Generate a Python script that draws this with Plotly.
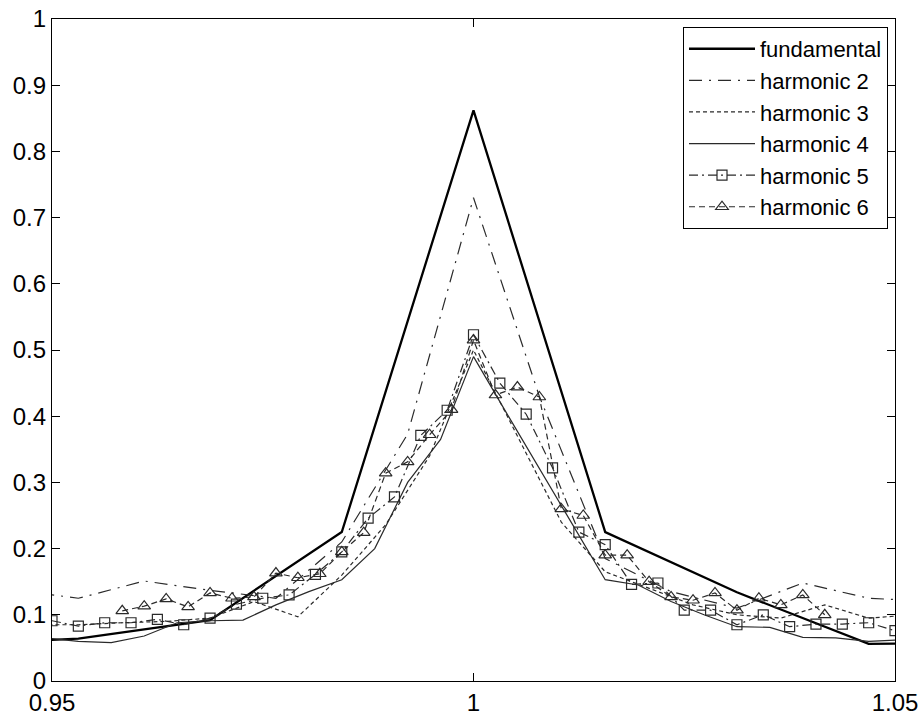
import plotly.graph_objects as go

# ---- data ----
fund_x = [0.9375, 0.953125, 0.96875, 0.984375, 1.0, 1.015625, 1.03125, 1.046875, 1.0625]
fund_y = [0.055, 0.064, 0.092, 0.225, 0.862, 0.225, 0.134, 0.056, 0.058]

h2_x = [0.945313, 0.953125, 0.960938, 0.96875, 0.976563, 0.984375, 0.992188, 1.0,
        1.007813, 1.015625, 1.023438, 1.03125, 1.039063, 1.046875, 1.054688]
h2_y = [0.138, 0.125, 0.151, 0.137, 0.125, 0.21, 0.373, 0.73,
        0.43, 0.185, 0.135, 0.11, 0.148, 0.125, 0.12]

h3_x = [0.947917, 0.953125, 0.958333, 0.963542, 0.96875, 0.973958, 0.979167, 0.984375,
        0.989583, 0.994792, 1.0, 1.005208, 1.010417, 1.015625, 1.020833, 1.026042,
        1.03125, 1.036458, 1.041667, 1.046875, 1.052083]
h3_y = [0.085, 0.085, 0.088, 0.09, 0.095, 0.12, 0.097, 0.16,
        0.236, 0.34, 0.50, 0.37, 0.24, 0.165, 0.14, 0.115,
        0.10, 0.095, 0.115, 0.095, 0.10]

h4_x = [0.949219, 0.953125, 0.957031, 0.960938, 0.964844, 0.96875, 0.972656, 0.976563,
        0.980469, 0.984375, 0.988281, 0.992188, 0.996094, 1.0, 1.003906, 1.007813,
        1.011719, 1.015625, 1.019531, 1.023438, 1.027344, 1.03125, 1.035156, 1.039063,
        1.042969, 1.046875, 1.050781]
h4_y = [0.065, 0.06, 0.058, 0.068, 0.088, 0.091, 0.092, 0.115,
        0.135, 0.153, 0.20, 0.30, 0.365, 0.49, 0.405, 0.32,
        0.237, 0.153, 0.145, 0.12, 0.10, 0.082, 0.081, 0.066,
        0.065, 0.06, 0.062]

h5_x = [0.95, 0.953125, 0.95625, 0.959375, 0.9625, 0.965625, 0.96875, 0.971875,
        0.975, 0.978125, 0.98125, 0.984375, 0.9875, 0.990625, 0.99375, 0.996875,
        1.0, 1.003125, 1.00625, 1.009375, 1.0125, 1.015625, 1.01875, 1.021875,
        1.025, 1.028125, 1.03125, 1.034375, 1.0375, 1.040625, 1.04375, 1.046875, 1.05]
h5_y = [0.091, 0.083, 0.088, 0.088, 0.093, 0.085, 0.095, 0.116,
        0.125, 0.130, 0.161, 0.195, 0.246, 0.278, 0.371, 0.409,
        0.523, 0.450, 0.403, 0.322, 0.225, 0.206, 0.146, 0.148,
        0.107, 0.107, 0.085, 0.100, 0.082, 0.086, 0.086, 0.088, 0.076]

h6_x = [0.958333, 0.960938, 0.963542, 0.966146, 0.96875, 0.971354, 0.973958, 0.976563,
        0.979167, 0.981771, 0.984375, 0.986979, 0.989583, 0.992188, 0.994792, 0.997396,
        1.0, 1.002604, 1.005208, 1.007813, 1.010417, 1.013021, 1.015625, 1.018229,
        1.020833, 1.023438, 1.026042, 1.028646, 1.03125, 1.033854, 1.036458, 1.039063, 1.041667]
h6_y = [0.106, 0.113, 0.124, 0.112, 0.133, 0.125, 0.127, 0.163,
        0.156, 0.162, 0.195, 0.224, 0.314, 0.331, 0.372, 0.41,
        0.515, 0.432, 0.444, 0.429, 0.26, 0.25, 0.19, 0.19,
        0.15, 0.127, 0.122, 0.133, 0.107, 0.125, 0.115, 0.13, 0.10]

x_tickvals = [0.95, 1.0, 1.05]
x_ticktext = ["0.95", "1", "1.05"]
names = ["fundamental", "harmonic 2", "harmonic 3", "harmonic 4", "harmonic 5", "harmonic 6"]

FONT = "Liberation Sans, Arial, sans-serif"
GRAY = "#2a2a2a"

fig = go.Figure()
fig.add_trace(go.Scatter(x=fund_x, y=fund_y, mode="lines", name=names[0],
                         line=dict(color="black", width=2.3)))
fig.add_trace(go.Scatter(x=h2_x, y=h2_y, mode="lines", name=names[1],
                         line=dict(color=GRAY, width=1.2, dash="13px,7px,2px,7px")))
fig.add_trace(go.Scatter(x=h3_x, y=h3_y, mode="lines", name=names[2],
                         line=dict(color=GRAY, width=1.2, dash="4px,3px")))
fig.add_trace(go.Scatter(x=h4_x, y=h4_y, mode="lines", name=names[3],
                         line=dict(color=GRAY, width=1.2)))
fig.add_trace(go.Scatter(x=h5_x, y=h5_y, mode="lines+markers", name=names[4],
                         line=dict(color=GRAY, width=1.2, dash="9px,4px,2px,4px"),
                         marker=dict(symbol="square-open", size=10, color=GRAY,
                                     line=dict(width=1.2, color=GRAY))))
fig.add_trace(go.Scatter(x=h6_x, y=h6_y, mode="lines+markers", name=names[5],
                         line=dict(color=GRAY, width=1.2, dash="6px,4px"),
                         marker=dict(symbol="triangle-up-open", size=11, color=GRAY,
                                     line=dict(width=1.2, color=GRAY))))

axis_common = dict(showgrid=False, zeroline=False, showline=True, linecolor="black",
                   linewidth=1.3, mirror="ticks", ticks="inside", ticklen=8,
                   tickwidth=1, tickcolor="black", automargin=False,
                   tickfont=dict(family=FONT, size=24, color="black"))

fig.update_xaxes(range=[0.95, 1.05], tickvals=x_tickvals, ticktext=x_ticktext, **axis_common)
fig.update_yaxes(range=[0, 1], dtick=0.1, tick0=0, **axis_common)

fig.update_layout(
    width=922, height=716,
    margin=dict(l=52, r=27, t=19, b=35, autoexpand=False),
    paper_bgcolor="white", plot_bgcolor="white",
    showlegend=True,
    legend=dict(x=0.9917, y=0.988, xanchor="right", yanchor="top",
                bgcolor="white", bordercolor="black", borderwidth=1,
                font=dict(family=FONT, size=22, color="black"),
                tracegroupgap=0, itemwidth=66),
)

fig.write_html("out.html", config={"displayModeBar": False},
               post_script="document.body.style.margin='0';document.body.style.overflow='hidden';")
